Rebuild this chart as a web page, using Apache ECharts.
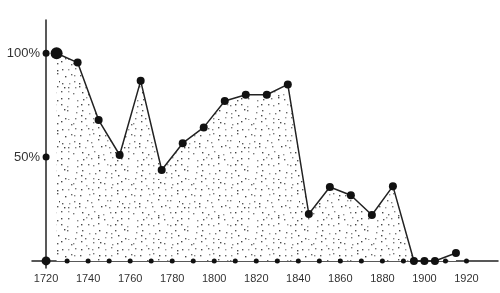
<!DOCTYPE html>
<html>
<head>
<meta charset="utf-8">
<script src="https://cdn.jsdelivr.net/npm/echarts@6/dist/echarts.min.js"></script>
<style>
html,body{margin:0;padding:0;background:#fff;}
#chart{width:500px;height:293px;}
</style>
</head>
<body>
<div id="chart"></div>
<script>
// ---- data ----
var BASE_YEAR = 1720;
var years  = [1725,1735,1745,1755,1765,1775,1785,1795,1805,1815,1825,1835,1845,1855,1865,1875,1885,1895,1900,1905,1915];
var values = [100,95.5,67.8,51,86.7,43.8,56.7,64.3,77,80,80,85,22.6,35.6,31.6,22.1,36,0,0,0,3.8];
var xTickYears = [1730,1740,1750,1760,1770,1780,1790,1800,1810,1820,1830,1840,1850,1860,1870,1880,1890,1900,1910,1920];
var xLabelYears = [1720,1740,1760,1780,1800,1820,1840,1860,1880,1900,1920];
var yTickValues = [50,100];

// ---- stipple pattern (deterministic) ----
function makeStipple(){
  var c = document.createElement('canvas');
  var S = 60; c.width = S; c.height = S;
  var ctx = c.getContext('2d');
  ctx.fillStyle = '#fff'; ctx.fillRect(0,0,S,S);
  var shades = ['#444','#666','#888','#555','#999','#777'];
  var step = 6;
  for (var gy = 0; gy < S/step; gy++){
    for (var gx = 0; gx < S/step; gx++){
      var h1 = Math.abs(Math.sin(gx*12.9898 + gy*78.233) * 43758.5453) % 1;
      var h2 = Math.abs(Math.sin(gx*39.3468 + gy*11.135) * 24634.6345) % 1;
      var px = gx*step + 1 + h1*(step-2);
      var py = gy*step + 1 + h2*(step-2);
      ctx.fillStyle = shades[(gx*7 + gy*3) % shades.length];
      ctx.fillRect(Math.round(px), Math.round(py), 1.4, 1.4);
    }
  }
  return c;
}

var chart = echarts.init(document.getElementById('chart'), null, {renderer:'canvas'});
var seriesData = years.map(function(y,i){ return [y-BASE_YEAR, values[i]]; });
var tickData = xTickYears.map(function(y){ return [y-BASE_YEAR, 0]; })
  .concat(yTickValues.map(function(v){ return [0, v]; }));

var option = {
  animation: false,
  backgroundColor: '#fff',
  grid: { left: 32, right: 2, top: 20, bottom: 25, containLabel: false, outerBoundsMode: 'none' },
  xAxis: {
    type: 'value',
    min: -6.7, max: 215,
    axisLine: { show: true, onZero: true, lineStyle: { color: '#222', width: 1.5 } },
    axisTick: { show: false },
    splitLine: { show: false },
    axisLabel: {
      customValues: xLabelYears.map(function(y){ return y-BASE_YEAR; }),
      formatter: function(v){ return String(Math.round(v)+BASE_YEAR); },
      color: '#333', fontSize: 11, fontFamily: 'Liberation Sans, Arial, sans-serif',
      margin: 5
    }
  },
  yAxis: {
    type: 'value',
    min: -3.4, max: 116,
    axisLine: { show: true, onZero: true, lineStyle: { color: '#222', width: 1.5 } },
    axisTick: { show: false },
    splitLine: { show: false },
    axisLabel: {
      customValues: yTickValues,
      formatter: function(v){ return v + '%'; },
      color: '#333', fontSize: 13, fontFamily: 'Liberation Sans, Arial, sans-serif',
      margin: -8
    }
  },
  series: [
    {
      type: 'line',
      data: seriesData,
      symbol: 'circle',
      symbolSize: function(val, params){ return params.dataIndex === 0 ? 12 : 8; },
      itemStyle: { color: '#111' },
      lineStyle: { color: '#222', width: 1.5 },
      areaStyle: { color: { image: makeStipple(), repeat: 'repeat' }, opacity: 1 },
      z: 3
    },
    {
      type: 'scatter',
      data: tickData,
      symbol: 'circle',
      symbolSize: function(val){ return val[0] === 0 ? 7 : 5; },
      itemStyle: { color: '#111', opacity: 1 },
      z: 5
    },
    {
      type: 'scatter',
      data: [[0,0]],
      symbol: 'circle',
      symbolSize: 9,
      itemStyle: { color: '#111', opacity: 1 },
      z: 5
    }
  ]
};
chart.setOption(option);
</script>
</body>
</html>
